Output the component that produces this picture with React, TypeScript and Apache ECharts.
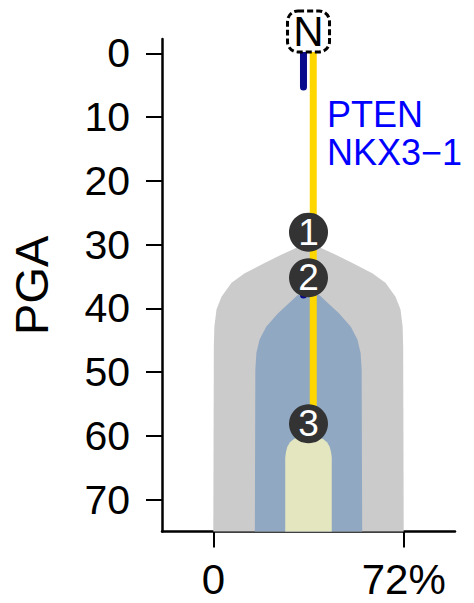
import React, { useEffect, useRef } from 'react';
import * as echarts from 'echarts';

// ---- data ----
const yTicks = [0, 10, 20, 30, 40, 50, 60, 70];
const xTicks = [0, 72];
const cloneCenter = 36;
// clone outlines: [PGA, half-width in %]
const greyProfile: [number, number][] = [
  [30.0, 0], [30.3, 3.5], [31.6, 10.3], [32.9, 16.6], [34.5, 24.1], [36.0, 29.1],
  [38.2, 32.9], [40.2, 34.8], [42.9, 35.6], [46.0, 35.8], [75, 36],
];
const blueProfile: [number, number][] = [
  [37.4, 0], [37.9, 4.1], [38.9, 6.6], [40.8, 11.6], [42.9, 16.0], [44.9, 18.5],
  [47.0, 19.7], [49.6, 20.1], [75, 20.3],
];
const paleProfile: [number, number][] = [
  [60.1, 0], [60.2, 3.5], [60.5, 5.5], [61.0, 7.0], [61.7, 8.0], [62.5, 8.5],
  [63.4, 8.8], [75, 8.8],
];
const cloneColors = ['#cbcbcb', '#91a8c2', '#e4e6c0'];
const trunkLine: [number, number][] = [[37.8, -0.5], [37.8, 58.1]];
const branchLine: [number, number][] = [[34.1, 0], [34.1, 5.3]];
const branchStub: [number, number][] = [[34.1, 36], [34.1, 37.9]];
const nodeLabels = ['1', '2', '3'];
const nodePGA = [28.05, 35.2, 58.1];
const rootLabel = 'N';
const geneLabels = ['PTEN', 'NKX3\u22121'];

const FONT = 'Liberation Sans, Arial, Helvetica, sans-serif';

function polygonFromProfile(profile: [number, number][]) {
  const left = profile.map(([pga, hw]) => [cloneCenter - hw, pga]);
  const right = profile.slice().reverse().map(([pga, hw]) => [cloneCenter + hw, pga]);
  return left.concat(right);
}

function cloneSeries(profile: [number, number][], color: string, z: number) {
  const poly = polygonFromProfile(profile);
  return {
    type: 'custom',
    data: poly,
    encode: { x: 0, y: 1 },
    z,
    silent: true,
    renderItem: (params: any, api: any) => {
      if (params.dataIndex !== 0) return null;
      const pts = poly.map((p) => api.coord(p));
      return { type: 'polygon', shape: { points: pts }, style: { fill: color } };
    },
  };
}

export default function App() {
  const ref = useRef<HTMLDivElement>(null);
  useEffect(() => {
    document.body.style.margin = '0';
    const chart = echarts.init(ref.current!, null, { renderer: 'svg' });
    chart.setOption({
      animation: false,
      grid: { left: 160, right: 19, top: 39, bottom: 71.5 },
      xAxis: {
        type: 'value',
        min: -19.4,
        max: 91.4,
        splitLine: { show: false },
        axisLine: { show: true, onZero: false, lineStyle: { color: '#000', width: 2.5 } },
        axisTick: { show: true, length: 16, customValues: xTicks, lineStyle: { color: '#000', width: 2 } },
        axisLabel: {
          customValues: xTicks,
          margin: 27,
          fontSize: 42,
          lineHeight: 42,
          color: '#000',
          fontFamily: FONT,
          formatter: (v: number) => (v === 0 ? '0' : v + '%'),
        },
      },
      yAxis: {
        type: 'value',
        inverse: true,
        min: -2.24,
        max: 75,
        name: 'PGA',
        nameLocation: 'middle',
        nameGap: 107,
        nameTextStyle: { fontSize: 47, color: '#000', fontFamily: FONT },
        splitLine: { show: false },
        axisLine: { show: true, onZero: false, lineStyle: { color: '#000', width: 2.5 } },
        axisTick: { show: true, length: 16, customValues: yTicks, lineStyle: { color: '#000', width: 2 } },
        axisLabel: { customValues: yTicks, margin: 32, fontSize: 41, color: '#000', fontFamily: FONT },
      },
      graphic: [
        {
          type: 'text',
          left: 327,
          top: 95,
          style: {
            text: geneLabels.join('\n'),
            fill: '#0000ff',
            fontSize: 36,
            lineHeight: 38,
            fontFamily: FONT,
          },
        },
      ],
      series: [
        cloneSeries(greyProfile, cloneColors[0], 1),
        cloneSeries(blueProfile, cloneColors[1], 2),
        cloneSeries(paleProfile, cloneColors[2], 3),
        {
          type: 'line', data: trunkLine, z: 4, symbol: 'none', silent: true,
          lineStyle: { color: '#ffd700', width: 7, cap: 'butt' },
        },
        {
          type: 'line', data: branchLine, z: 4, symbol: 'none', silent: true,
          lineStyle: { color: '#0a0a8c', width: 7, cap: 'round' },
        },
        {
          type: 'line', data: branchStub, z: 4, symbol: 'none', silent: true,
          lineStyle: { color: '#0a0a8c', width: 7, cap: 'round' },
        },
        {
          type: 'scatter',
          z: 5,
          clip: false,
          symbol: 'circle',
          symbolSize: 39,
          itemStyle: { color: '#333333', opacity: 1 },
          label: {
            show: true, position: 'inside', formatter: '{b}', color: '#fff',
            fontSize: 37, fontFamily: FONT,
          },
          data: nodePGA.map((v, i) => ({ value: [cloneCenter, v], name: nodeLabels[i] })),
        },
        {
          type: 'scatter',
          z: 6,
          clip: false,
          symbol: 'roundRect',
          symbolSize: [42, 41],
          symbolOffset: [0, -21.8],
          itemStyle: { color: '#fff', opacity: 1, borderColor: '#000', borderWidth: 3, borderType: [6, 3] },
          label: {
            show: true, position: 'inside', formatter: '{b}', color: '#000',
            fontSize: 42, fontFamily: FONT,
          },
          data: [{ value: [cloneCenter, 0], name: rootLabel }],
        },
      ],
    });
    return () => chart.dispose();
  }, []);
  return <div ref={ref} style={{ width: 474, height: 603 }} />;
}
